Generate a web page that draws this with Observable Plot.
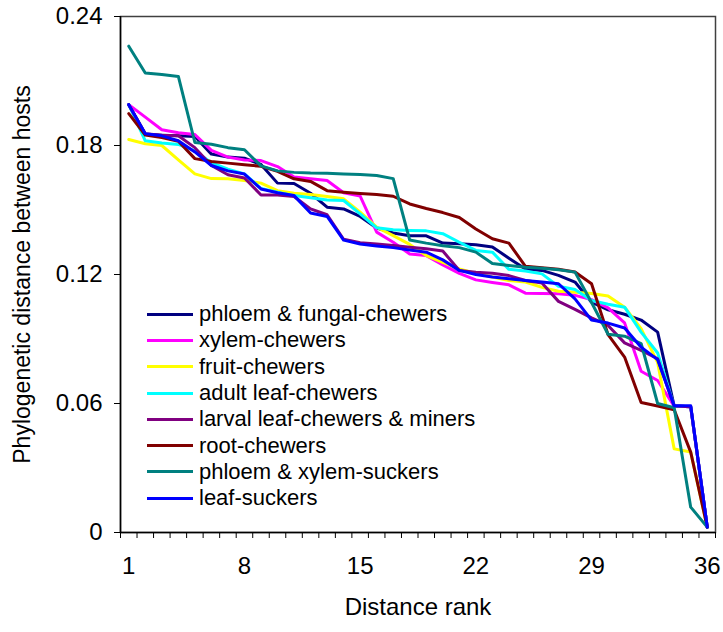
<!DOCTYPE html>
<html>
<head>
<meta charset="utf-8">
<script src="https://cdn.jsdelivr.net/npm/d3@7"></script>
<script src="https://cdn.jsdelivr.net/npm/@observablehq/plot@0.6"></script>
<style>
  body { margin: 0; background: #fff; }
  #wrap { position: relative; width: 723px; height: 632px; font-family: "Liberation Sans", Arial, sans-serif; }
  #legend { position: absolute; left: 147px; top: 301px; }
  .item { display: flex; align-items: center; height: 26.3px; font-size: 22px; color: #000; white-space: nowrap; }
  .swatch { width: 46px; height: 3px; margin-right: 6px; }
</style>
</head>
<body>
<div id="wrap"></div>
<script>
const ranks = d3.range(1, 37);
const xTickLabels = [1, 8, 15, 22, 29, 36];
const yTicks = [0, 0.06, 0.12, 0.18, 0.24];
const xTitle = "Distance rank";
const yTitle = "Phylogenetic distance between hosts";

const seriesNames = [
  "phloem & fungal-chewers",
  "xylem-chewers",
  "fruit-chewers",
  "adult leaf-chewers",
  "larval leaf-chewers & miners",
  "root-chewers",
  "phloem & xylem-suckers",
  "leaf-suckers"
];
const seriesColors = ["#000080", "#FF00FF", "#FFFF00", "#00FFFF", "#800080", "#800000", "#008080", "#0000FF"];

const phloemFungalChewers = [0.199, 0.1852, 0.1848, 0.1845, 0.1842, 0.176, 0.1746, 0.1741, 0.1712, 0.1625, 0.1623, 0.1578, 0.1513, 0.1505, 0.147, 0.1416, 0.1393, 0.138, 0.138, 0.1346, 0.1343, 0.1338, 0.1328, 0.1276, 0.1226, 0.1219, 0.1196, 0.1165, 0.1071, 0.1036, 0.1015, 0.0988, 0.0932, 0.0588, 0.0585, 0.0025];
const xylemChewers = [0.199, 0.1932, 0.1873, 0.1859, 0.1851, 0.1777, 0.1746, 0.1733, 0.173, 0.1702, 0.1653, 0.1645, 0.1637, 0.158, 0.1565, 0.1397, 0.135, 0.1295, 0.1288, 0.1245, 0.1205, 0.1175, 0.1163, 0.1152, 0.1113, 0.1112, 0.111, 0.1103, 0.1083, 0.1045, 0.0975, 0.075, 0.0707, 0.0588, 0.0585, 0.0025];
const fruitChewers = [0.1828, 0.1808, 0.18, 0.1733, 0.1668, 0.1646, 0.1645, 0.1637, 0.1625, 0.159, 0.1578, 0.1572, 0.1563, 0.1552, 0.149, 0.142, 0.1381, 0.134, 0.1288, 0.1257, 0.1226, 0.1205, 0.1188, 0.1172, 0.1165, 0.114, 0.1122, 0.1118, 0.1112, 0.11, 0.1048, 0.0948, 0.079, 0.0389, 0.0374, 0.0025];
const adultLeafChewers = [0.199, 0.1822, 0.1812, 0.1805, 0.1775, 0.172, 0.169, 0.1668, 0.16, 0.1583, 0.1567, 0.1557, 0.1547, 0.1544, 0.1482, 0.1417, 0.1408, 0.1405, 0.1403, 0.139, 0.135, 0.1312, 0.1304, 0.1224, 0.1216, 0.1203, 0.1145, 0.113, 0.1079, 0.1062, 0.1048, 0.0932, 0.0835, 0.0588, 0.0585, 0.0025];
const larvalLeafChewersMiners = [0.199, 0.1855, 0.1848, 0.1845, 0.179, 0.1707, 0.1664, 0.1649, 0.157, 0.157, 0.1563, 0.1505, 0.1478, 0.1364, 0.1348, 0.1342, 0.1335, 0.1327, 0.132, 0.1309, 0.1219, 0.1211, 0.1206, 0.1195, 0.1172, 0.116, 0.1075, 0.1038, 0.0998, 0.0963, 0.0882, 0.0847, 0.0808, 0.0588, 0.0585, 0.0025];
const rootChewers = [0.1948, 0.1849, 0.1837, 0.182, 0.1739, 0.1726, 0.1718, 0.1711, 0.1703, 0.168, 0.1645, 0.1633, 0.159, 0.1583, 0.1577, 0.1572, 0.1564, 0.1528, 0.1507, 0.1488, 0.1465, 0.1412, 0.1366, 0.1346, 0.1238, 0.1231, 0.1224, 0.1212, 0.1157, 0.092, 0.0816, 0.0605, 0.0588, 0.0571, 0.0374, 0.0025];
const phloemXylemSuckers = [0.2262, 0.2137, 0.213, 0.2121, 0.1814, 0.1806, 0.179, 0.178, 0.1705, 0.1682, 0.1675, 0.1672, 0.1671, 0.1668, 0.1665, 0.166, 0.1646, 0.136, 0.1346, 0.1334, 0.1325, 0.1304, 0.1251, 0.1242, 0.1234, 0.1229, 0.1222, 0.1211, 0.107, 0.0922, 0.0913, 0.0879, 0.06, 0.058, 0.0118, 0.0025];
const leafSuckers = [0.199, 0.1855, 0.1845, 0.1822, 0.177, 0.1707, 0.1682, 0.1667, 0.1598, 0.158, 0.1567, 0.1486, 0.147, 0.136, 0.1342, 0.1333, 0.1325, 0.1314, 0.1304, 0.1268, 0.1219, 0.12, 0.1188, 0.118, 0.1172, 0.1165, 0.1157, 0.1087, 0.0988, 0.0974, 0.0951, 0.0862, 0.0804, 0.059, 0.059, 0.0025];

const seriesValues = [phloemFungalChewers, xylemChewers, fruitChewers, adultLeafChewers, larvalLeafChewersMiners, rootChewers, phloemXylemSuckers, leafSuckers];

const data = seriesNames.flatMap((name, i) =>
  seriesValues[i].map((v, j) => ({series: name, rank: ranks[j], value: v}))
);
const xTickMarks = d3.range(0, 37).map(i => i + 0.5);

const chart = Plot.plot({
  width: 723,
  height: 632,
  marginLeft: 120,
  marginRight: 8,
  marginTop: 16,
  marginBottom: 100,
  x: {domain: [0.5, 36.5]},
  y: {domain: [0, 0.24]},
  color: {domain: seriesNames, range: seriesColors},
  style: {fontFamily: "'Liberation Sans', Arial, sans-serif", fontSize: "24px", color: "#000", background: "#fff"},
  marks: [
    Plot.frame({stroke: "#404040", strokeWidth: 1.5}),
    Plot.axisY({ticks: yTicks, tickSize: 6, tickPadding: 12, tickFormat: d => d === 0 ? "0" : d.toFixed(2), label: null, fontSize: 24, stroke: "#000"}),
    Plot.axisX({ticks: xTickMarks, tickSize: 6, tickFormat: () => "", label: null, stroke: "#000"}),
    Plot.axisX({ticks: xTickLabels, tickSize: 0, tickPadding: 24, label: null, fontSize: 24}),
    Plot.ruleX([0.5], {stroke: "#000", strokeWidth: 1.5}),
    Plot.ruleY([0], {stroke: "#000", strokeWidth: 1.5}),
    Plot.lineY(data, {x: "rank", y: "value", stroke: "series", strokeWidth: 3}),
    Plot.text([yTitle], {frameAnchor: "left", dx: -98, rotate: -90, textAnchor: "middle", fontSize: 23}),
    Plot.text([xTitle], {frameAnchor: "bottom", dy: 82, fontSize: 24})
  ]
});

const wrap = document.getElementById("wrap");
wrap.appendChild(chart);

const legend = document.createElement("div");
legend.id = "legend";
seriesNames.forEach((name, i) => {
  const item = document.createElement("div");
  item.className = "item";
  const sw = document.createElement("span");
  sw.className = "swatch";
  sw.style.background = seriesColors[i];
  const label = document.createElement("span");
  label.textContent = name;
  item.appendChild(sw);
  item.appendChild(label);
  legend.appendChild(item);
});
wrap.appendChild(legend);
</script>
</body>
</html>
